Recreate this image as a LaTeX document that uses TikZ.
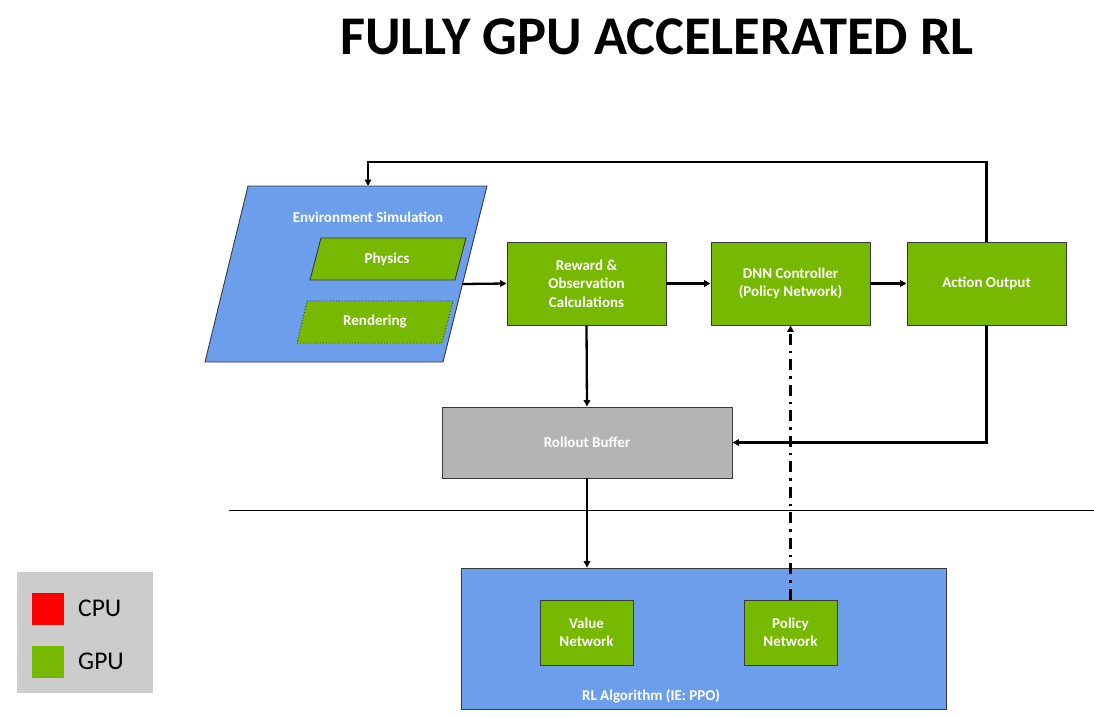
\documentclass[tikz,border=0pt]{standalone}
\usepackage{fontspec}
\setmainfont{Carlito}
\usetikzlibrary{arrows.meta}
\definecolor{nvgreen}{HTML}{76B900}
\definecolor{envblue}{HTML}{6D9EEB}
\definecolor{bufgray}{HTML}{B4B4B4}
\definecolor{leggray}{HTML}{CCCCCC}
\definecolor{edge}{HTML}{3A3A3A}
\tikzset{
  boxtext/.style={text=white, font=\bfseries\fontsize{15}{18.5}\selectfont, align=center},
  gbox/.style={draw=edge, line width=0.9pt, fill=nvgreen, boxtext, minimum width=159, minimum height=83, inner sep=0pt},
  smallbox/.style={draw=edge, line width=0.9pt, fill=nvgreen, boxtext, minimum width=93, minimum height=65, inner sep=0pt},
  arr/.style={line width=2.3pt, -{Triangle[length=6.5pt,width=6.5pt]}},
}
\begin{document}
\begin{tikzpicture}[x=1pt,y=-1pt]
\useasboundingbox (0,0) rectangle (1094,717);
% title
\node[font=\bfseries\fontsize{54.5}{60}\selectfont] (title) at (657,37) {FULLY GPU ACCELERATED RL};
% environment parallelogram
\draw[draw=edge, line width=0.9pt, fill=envblue] (248,186) -- (487,186) -- (443,362) -- (205,362) -- cycle;
\coordinate (envtop) at (368,186);
\coordinate (envright) at (462.5,284);
\node[boxtext] (envlabel) at (368,217) {Environment Simulation};
\draw[draw=edge, line width=0.9pt, fill=nvgreen] (321,238) -- (466,238) -- (455,280) -- (310,280) -- cycle;
\node[boxtext] (phys) at (387,259) {Physics};
\draw[draw=edge, line width=0.9pt, dotted, fill=nvgreen] (307,301) -- (453,301) -- (442,343) -- (297,343) -- cycle;
\node[boxtext] (rend) at (375,322) {Rendering};
% main boxes
\node[gbox] (rew) at (586.5,283.5) {Reward \&\\Observation\\Calculations};
\node[gbox] (dnn) at (790.5,283.5) {DNN Controller\\(Policy Network)};
\node[gbox] (act) at (986.5,283.5) {Action Output};
\node[draw=edge, line width=0.9pt, fill=bufgray, boxtext, minimum width=290, minimum height=71, inner sep=0pt] (roll) at (587,442.5) {Rollout Buffer};
% RL algorithm
\node[draw=edge, line width=0.9pt, fill=envblue, minimum width=485, minimum height=141, inner sep=0pt] (rl) at (703.5,638.5) {};
\node[boxtext] (rllabel) at (651,696) {RL Algorithm (IE: PPO)};
\node[smallbox] (val) at (586.5,632.5) {Value\\Network};
\node[smallbox] (pol) at (790.5,632.5) {Policy\\Network};
% connectors
\draw[arr] (envright) -- (rew.west);
\draw[arr] (rew.east) -- (dnn.west);
\draw[arr] (dnn.east) -- (act.west);
\draw[arr] (act.north) |- (368,162) -- (envtop);
\draw[arr] (rew.south) -- (roll.north);
\draw[arr] (act.south) |- (roll.east);
\draw[arr] (roll.south) -- (roll.south |- rl.north);
\draw[arr, dash pattern=on 11pt off 6pt on 2.5pt off 6pt] (pol.north) -- (dnn.south);
% divider
\draw[line width=0.8pt] (229,510) -- (1094,510);
% legend
\node[fill=leggray, minimum width=136, minimum height=121, inner sep=0pt] (legend) at (85,632.5) {};
\node[fill=red, minimum width=32, minimum height=32, inner sep=0pt] (cpusq) at (48,609) {};
\node[fill=nvgreen, minimum width=32, minimum height=32, inner sep=0pt] (gpusq) at (48,662) {};
\node[anchor=west, font=\fontsize{25.5}{28}\selectfont, inner sep=0pt] (cpu) at (78,608) {CPU};
\node[anchor=west, font=\fontsize{25.5}{28}\selectfont, inner sep=0pt] (gpu) at (78,661) {GPU};
\end{tikzpicture}
\end{document}
